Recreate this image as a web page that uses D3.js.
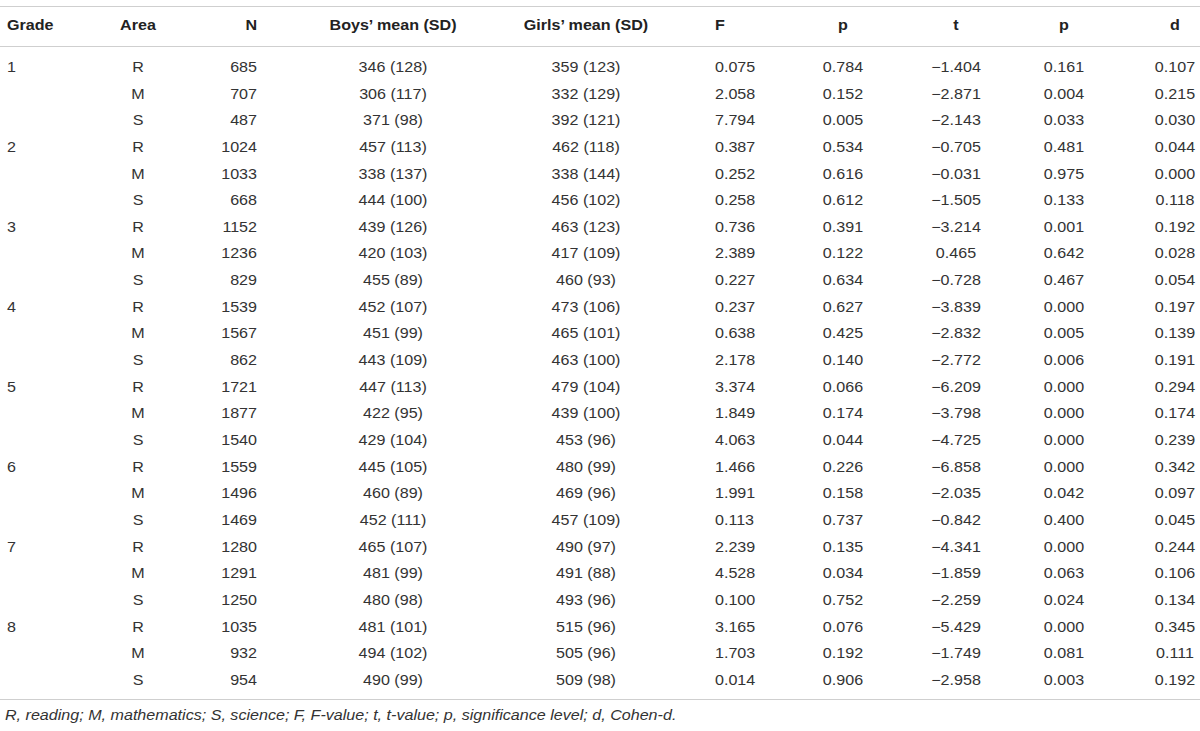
<!DOCTYPE html>
<html>
<head>
<meta charset="utf-8">
<script src="https://cdn.jsdelivr.net/npm/d3@7"></script>
<style>
  body { margin: 0; background: #fff; }
  svg text { font-family: "Liberation Sans", Arial, sans-serif; font-size: 14px; fill: #333; }
  svg text.head { font-weight: bold; fill: #222; }
  svg text.note { font-style: italic; }
</style>
</head>
<body>
<div id="table"></div>
<script>
'use strict'

/**
 * Gender differences table, drawn as svg text
 */

const grades = [1, 2, 3, 4, 5, 6, 7, 8];
const areas = ['R', 'M', 'S'];

const nValues = [685, 707, 487, 1024, 1033, 668, 1152, 1236, 829, 1539, 1567, 862,
	1721, 1877, 1540, 1559, 1496, 1469, 1280, 1291, 1250, 1035, 932, 954];
const boysMean = [346, 306, 371, 457, 338, 444, 439, 420, 455, 452, 451, 443,
	447, 422, 429, 445, 460, 452, 465, 481, 480, 481, 494, 490];
const boysSD = [128, 117, 98, 113, 137, 100, 126, 103, 89, 107, 99, 109,
	113, 95, 104, 105, 89, 111, 107, 99, 98, 101, 102, 99];
const girlsMean = [359, 332, 392, 462, 338, 456, 463, 417, 460, 473, 465, 463,
	479, 439, 453, 480, 469, 457, 490, 491, 493, 515, 505, 509];
const girlsSD = [123, 129, 121, 118, 144, 102, 123, 109, 93, 106, 101, 100,
	104, 100, 96, 99, 96, 109, 97, 88, 96, 96, 96, 98];
const fValues = [0.075, 2.058, 7.794, 0.387, 0.252, 0.258, 0.736, 2.389, 0.227, 0.237, 0.638, 2.178,
	3.374, 1.849, 4.063, 1.466, 1.991, 0.113, 2.239, 4.528, 0.100, 3.165, 1.703, 0.014];
const pF = [0.784, 0.152, 0.005, 0.534, 0.616, 0.612, 0.391, 0.122, 0.634, 0.627, 0.425, 0.140,
	0.066, 0.174, 0.044, 0.226, 0.158, 0.737, 0.135, 0.034, 0.752, 0.076, 0.192, 0.906];
const tValues = [-1.404, -2.871, -2.143, -0.705, -0.031, -1.505, -3.214, 0.465, -0.728, -3.839, -2.832, -2.772,
	-6.209, -3.798, -4.725, -6.858, -2.035, -0.842, -4.341, -1.859, -2.259, -5.429, -1.749, -2.958];
const pT = [0.161, 0.004, 0.033, 0.481, 0.975, 0.133, 0.001, 0.642, 0.467, 0.000, 0.005, 0.006,
	0.000, 0.000, 0.000, 0.000, 0.042, 0.400, 0.000, 0.063, 0.024, 0.000, 0.081, 0.003];
const dValues = [0.107, 0.215, 0.030, 0.044, 0.000, 0.118, 0.192, 0.028, 0.054, 0.197, 0.139, 0.191,
	0.294, 0.174, 0.239, 0.342, 0.097, 0.045, 0.244, 0.106, 0.134, 0.345, 0.111, 0.192];

const headers = ['Grade', 'Area', 'N', 'Boys\u2019 mean (SD)', 'Girls\u2019 mean (SD)', 'F', 'p', 't', 'p', 'd'];
const footnote = 'R, reading; M, mathematics; S, science; F, F-value; t, t-value; p, significance level; d, Cohen-d.';

// text is a bit wider than the font, so stretch it
const stretch = 1.15;

const width = 1200;
const height = 731;

const fmt3 = d3.format('.3f');

// columns: x position and text-anchor
const columns = [
	{ x: 7, anchor: 'start', value: i => (i % 3 === 0 ? grades[i / 3] : '') },
	{ x: 138, anchor: 'middle', value: i => areas[i % 3] },
	{ x: 257, anchor: 'end', value: i => nValues[i] },
	{ x: 393, anchor: 'middle', value: i => `${boysMean[i]} (${boysSD[i]})` },
	{ x: 586, anchor: 'middle', value: i => `${girlsMean[i]} (${girlsSD[i]})` },
	{ x: 715, anchor: 'start', value: i => fmt3(fValues[i]) },
	{ x: 843, anchor: 'middle', value: i => fmt3(pF[i]) },
	{ x: 956, anchor: 'middle', value: i => fmt3(tValues[i]) },
	{ x: 1064, anchor: 'middle', value: i => fmt3(pT[i]) },
	{ x: 1175, anchor: 'middle', value: i => fmt3(dValues[i]) }
];

const svg = d3.select('#table')
	.append('svg')
	.attr('width', width)
	.attr('height', height);

const y = d3.scalePoint()
	.domain(d3.range(nValues.length))
	.range([67, 680]);

// rules
[6, 46, 699].forEach(ly => {
	svg.append('line')
		.attr('x1', 0).attr('x2', width)
		.attr('y1', ly + 0.5).attr('y2', ly + 0.5)
		.attr('stroke', '#cfcfcf')
		.attr('stroke-width', 1.2);
});

// header
svg.append('g')
	.selectAll('text')
	.data(columns)
	.enter()
	.append('text')
		.attr('class', 'head')
		.attr('transform', c => `translate(${c.x},25) scale(${stretch},1)`)
		.attr('dy', '0.35em')
		.attr('text-anchor', c => c.anchor)
		.text((c, j) => headers[j]);

// body
const rows = svg.append('g')
	.selectAll('g')
	.data(d3.range(nValues.length))
	.enter()
	.append('g');

rows.selectAll('text')
	.data(i => columns.map(c => ({ c: c, i: i })))
	.enter()
	.append('text')
		.attr('transform', d => `translate(${d.c.x},${y(d.i)}) scale(${stretch},1)`)
		.attr('dy', '0.35em')
		.attr('text-anchor', d => d.c.anchor)
		.text(d => d.c.value(d.i));

// footnote
svg.append('text')
	.attr('class', 'note')
	.attr('transform', `translate(5,715) scale(${stretch},1)`)
	.attr('dy', '0.35em')
	.text(footnote);
</script>
</body>
</html>
